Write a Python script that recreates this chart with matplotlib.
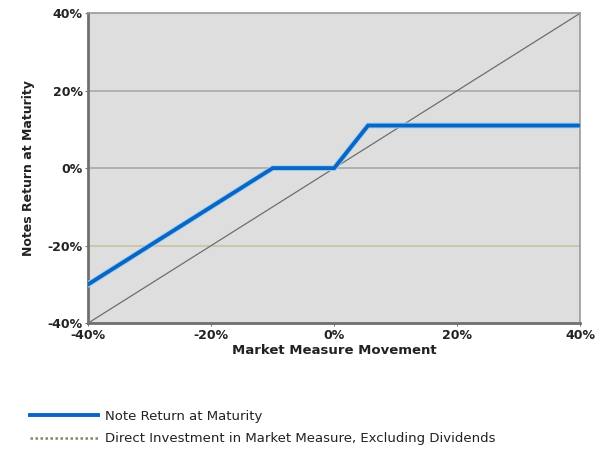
import numpy as np
import matplotlib.pyplot as plt
from matplotlib.lines import Line2D
from matplotlib.ticker import PercentFormatter

plt.rcParams['axes.unicode_minus'] = False

# Market measure movement (%) and note return at maturity (%)
market_move = [-40, -10, 0, 5.5, 40]
note_return = [-30, 0, 0, 11, 11]
# Direct investment (1:1 line)
direct_x = [-40, 40]
direct_y = [-40, 40]
ticks = [-40, -20, 0, 20, 40]

fig = plt.figure(figsize=(6, 4.55), dpi=100)
ax = fig.add_axes([0.147, 0.29, 0.82, 0.681])
ax.set_facecolor('#dedede')

# Gridlines
for t in [20, 0]:
    ax.axhline(t, color='#a8a8a8', lw=1.2, zorder=1)
ax.axhline(-20, color='#cbc7ae', lw=1.5, zorder=1)

ax.plot(direct_x, direct_y, color='#6e6e6e', lw=0.9, zorder=2)
ax.plot(market_move, note_return, color='#9fd3f5', lw=4.2, zorder=3, solid_joinstyle='miter')
ax.plot(market_move, note_return, color='#0a66c2', lw=2.8, zorder=4, solid_joinstyle='miter')

ax.set_xlim(-40, 40)
ax.set_ylim(-40, 40)
ax.set_xticks(ticks)
ax.set_yticks(ticks)
ax.xaxis.set_major_formatter(PercentFormatter(decimals=0))
ax.yaxis.set_major_formatter(PercentFormatter(decimals=0))
for lbl in ax.get_xticklabels() + ax.get_yticklabels():
    lbl.set_fontweight('bold')
    lbl.set_fontsize(9)
    lbl.set_color('#222222')
ax.tick_params(length=2, color='#777777', pad=2)

for side in ['left', 'bottom']:
    ax.spines[side].set_color('#707070')
    ax.spines[side].set_linewidth(2)
for side in ['top', 'right']:
    ax.spines[side].set_color('#999999')
    ax.spines[side].set_linewidth(1.2)

ax.set_xlabel('Market Measure Movement', fontsize=9.5, fontweight='bold', color='#222222', labelpad=2)
ax.set_ylabel('Notes Return at Maturity', fontsize=9, fontweight='bold', color='#222222', labelpad=9)

handles = [Line2D([], [], color='#0a66c2', lw=2.8),
           Line2D([], [], color='#8a8660', lw=1.8, linestyle=(0, (1, 1)))]
labels = ['Note Return at Maturity',
          'Direct Investment in Market Measure, Excluding Dividends']
fig.legend(handles, labels, loc='upper left', bbox_to_anchor=(0.03, 0.125),
           frameon=False, fontsize=9.5, handlelength=5.2, handletextpad=0.5,
           labelspacing=0.7, labelcolor='#222222')

plt.savefig('out.png', dpi=100)
